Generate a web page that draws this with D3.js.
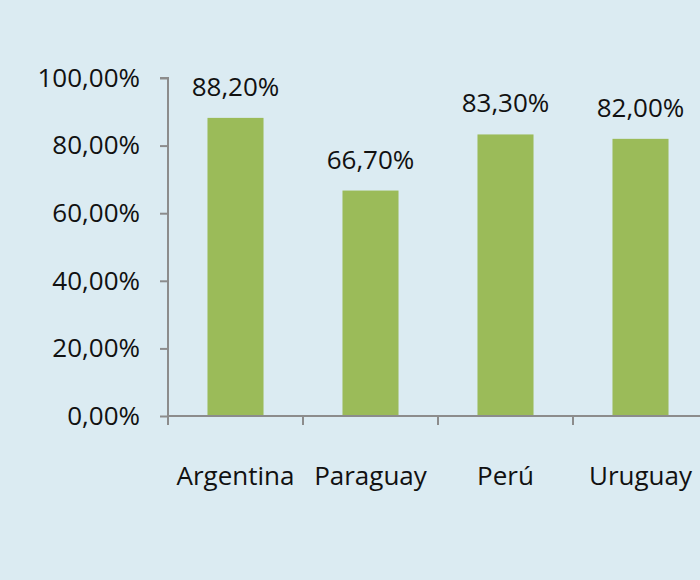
<!DOCTYPE html>
<html><head><meta charset="utf-8">
<script src="https://cdn.jsdelivr.net/npm/d3@7/dist/d3.min.js"></script>
<style>html,body{margin:0;padding:0;background:#dbebf2;}svg{display:block;}</style>
</head><body>
<script>
const categories = ["Argentina", "Paraguay", "Perú", "Uruguay"];
const values = [0.882, 0.667, 0.833, 0.82];
const yTicks = [0, 0.2, 0.4, 0.6, 0.8, 1.0];

(function () {
const W = 700, H = 580;
const mLeft = 168, mTop = 78, mBottom = 416, step = 135;
const font = "'Open Sans', 'Liberation Sans', sans-serif";
const fs = "26px";
const fmt = v => (v * 100).toFixed(2).replace(".", ",") + "%";

const svg = d3.select("body").append("svg").attr("width", W).attr("height", H);
svg.append("rect").attr("width", W).attr("height", H).attr("fill", "#dbebf2");

const x = d3.scaleBand().domain(categories).range([mLeft, mLeft + step * categories.length])
  .paddingInner(0.585).paddingOuter(0.2925);
const y = d3.scaleLinear().domain([0, 1]).range([mBottom, mTop]);

const axisColor = "#8c8c8c";

// y axis
const yAxis = svg.append("g").attr("transform", `translate(${mLeft},0)`)
  .call(d3.axisLeft(y).tickValues(yTicks).tickFormat(fmt).tickSize(8).tickPadding(20));
yAxis.select(".domain").attr("stroke", axisColor).attr("stroke-width", 2).attr("d", `M-8,${mTop}H0V${mBottom}`);
yAxis.selectAll(".tick line").attr("stroke", axisColor).attr("stroke-width", 2);
yAxis.selectAll(".tick text").attr("fill", "#111").style("font-family", font).style("font-size", fs);

// bars
svg.selectAll("rect.bar").data(values).enter().append("rect").attr("class", "bar")
  .attr("x", (d, i) => x(categories[i]))
  .attr("width", x.bandwidth())
  .attr("y", d => y(d))
  .attr("height", d => mBottom - y(d))
  .attr("fill", "#9bbb59");

// x axis
svg.append("line").attr("x1", mLeft).attr("x2", W).attr("y1", mBottom).attr("y2", mBottom)
  .attr("stroke", axisColor).attr("stroke-width", 2);
const boundaries = d3.range(categories.length + 1).map(i => mLeft + i * step);
svg.selectAll("line.xt").data(boundaries).enter().append("line").attr("class", "xt")
  .attr("x1", d => d).attr("x2", d => d).attr("y1", mBottom).attr("y2", mBottom + 9)
  .attr("stroke", axisColor).attr("stroke-width", 2);

// category labels
svg.selectAll("text.cat").data(categories).enter().append("text").attr("class", "cat")
  .attr("x", d => x(d) + x.bandwidth() / 2)
  .attr("y", 485)
  .attr("text-anchor", "middle")
  .attr("fill", "#111")
  .style("font-family", font).style("font-size", fs)
  .text(d => d);

// value labels
svg.selectAll("text.val").data(values).enter().append("text").attr("class", "val")
  .attr("x", (d, i) => x(categories[i]) + x.bandwidth() / 2)
  .attr("y", d => y(d) - 22)
  .attr("text-anchor", "middle")
  .attr("fill", "#111")
  .style("font-family", font).style("font-size", fs)
  .text(fmt);
})();
</script>
</body></html>
